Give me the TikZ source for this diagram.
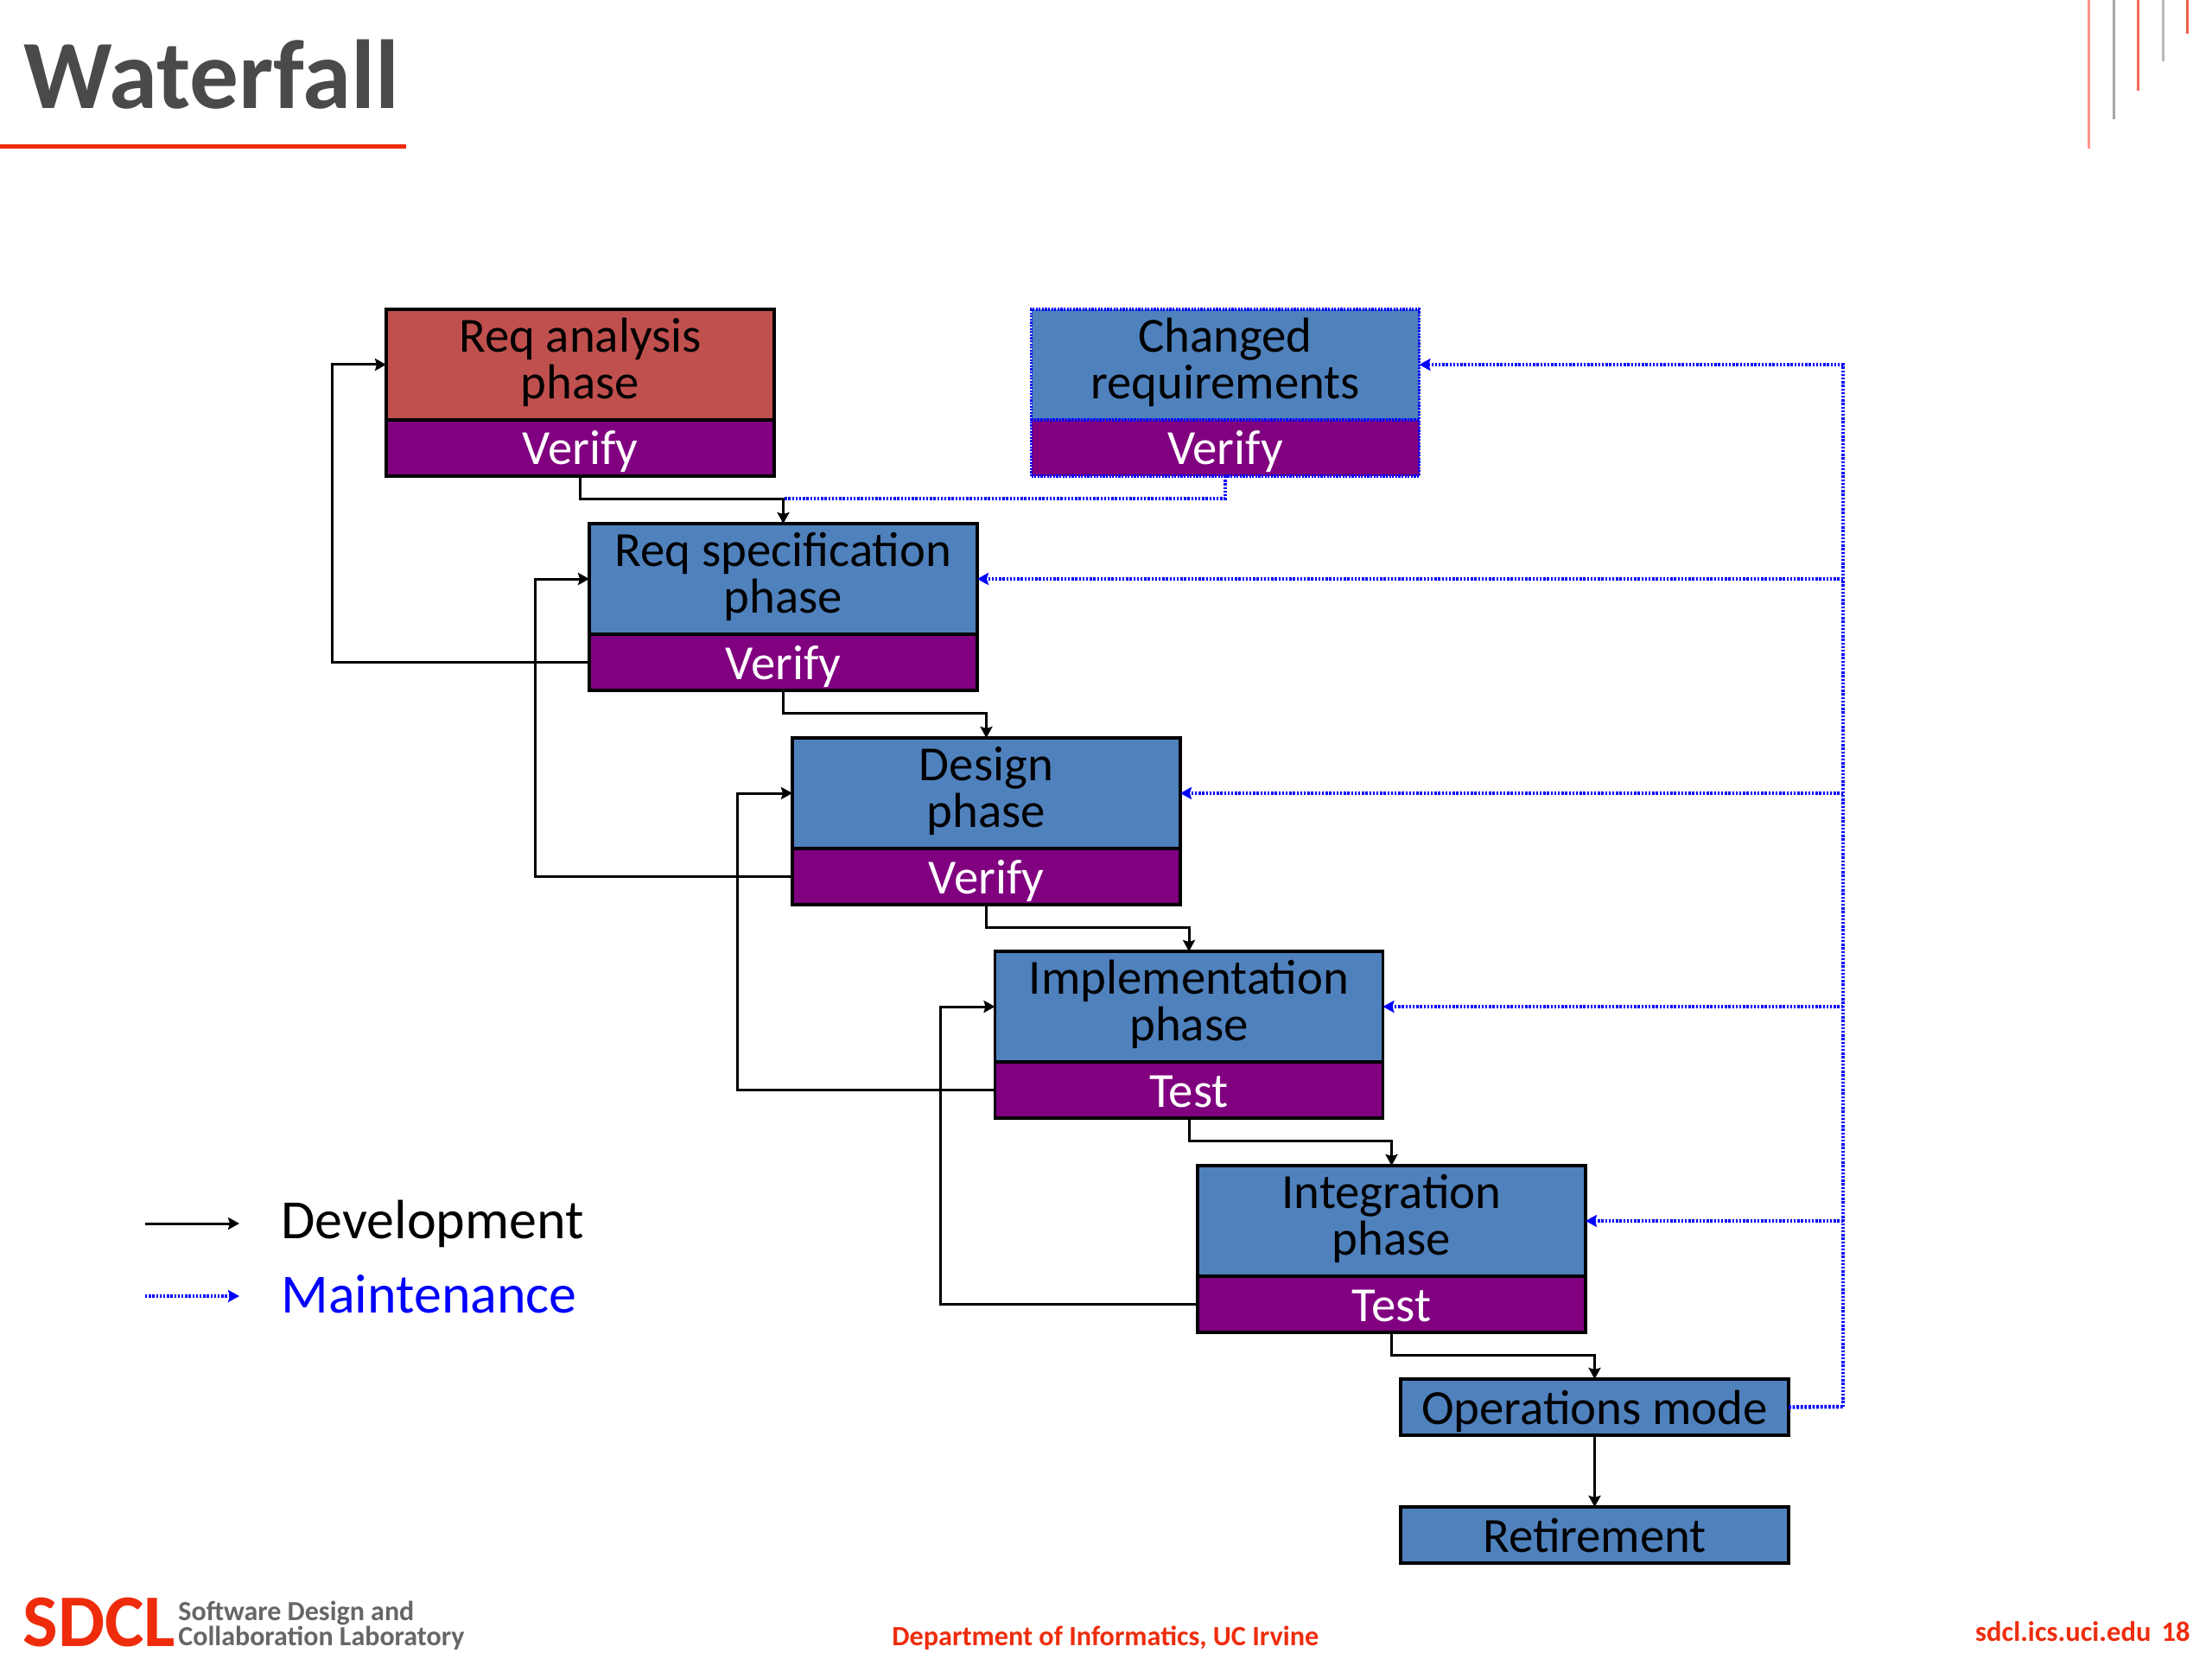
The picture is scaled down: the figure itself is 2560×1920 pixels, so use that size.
\documentclass[tikz,border=0pt]{standalone}
\usepackage{fontspec}
\setmainfont{Carlito}
\usetikzlibrary{arrows.meta,calc}
\definecolor{phaseblue}{HTML}{4F81BD}
\definecolor{phasered}{HTML}{C0504D}
\definecolor{verifypurple}{HTML}{800080}
\definecolor{sdclred}{HTML}{EE2C0C}
\definecolor{titlegray}{HTML}{4A4A4A}
\definecolor{labgray}{HTML}{666666}
\tikzset{
  x=0.5pt,y=-0.5pt,
  boxbase/.style={draw=black,line width=1.6pt,inner sep=0pt,outer sep=0pt,anchor=north west,align=center,minimum width=224.5pt,font=\fontsize{28.4}{27}\selectfont},
  phasetop/.style={boxbase,fill=phaseblue,minimum height=64pt,text depth=7pt},
  phasebot/.style={boxbase,fill=verifypurple,text=white,minimum height=32.5pt,text height=25.5pt,text depth=6pt},
  singlebox/.style={boxbase,fill=phaseblue,minimum height=32.5pt,text height=25.5pt,text depth=6pt},
  maintborder/.style={draw=blue,dash pattern=on 1.1pt off 0.7pt},
  devline/.style={draw=black,line width=1.5pt,-{Stealth[length=6.5pt,width=7pt,inset=1pt]}},
  maintline/.style={draw=blue,line width=1.6pt,dash pattern=on 1.2pt off 0.9pt,-{Stealth[length=6.5pt,width=7pt,inset=1pt]}},
  maintplain/.style={draw=blue,line width=1.6pt,dash pattern=on 1.2pt off 0.9pt},
  maintheavy/.style={draw=blue,line width=2.2pt,dash pattern=on 1.4pt off 0.9pt},
  cornerline/.style={line width=1.5pt},
  legendtext/.style={anchor=west,inner sep=0pt,font=\fontsize{32}{38}\selectfont},
}
\begin{document}
\begin{tikzpicture}
\useasboundingbox (0,0) rectangle (2560,1920);
% title
\node[anchor=base west,inner sep=0pt,text=titlegray,font=\fontsize{56.7}{68}\bfseries\selectfont] (title) at (27,126) {Waterfall};
\coordinate (ulA) at (0,170);
\coordinate (ulB) at (470,170);
\draw[sdclred,line width=2.5pt] (ulA) -- (ulB);
% corner lines
\draw[cornerline,color=red!40!white!90!orange] (2417,0) -- (2417,172);
\draw[cornerline,color=black!35] (2446,0) -- (2446,138);
\draw[cornerline,color=sdclred!70] (2474,0) -- (2474,105);
\draw[cornerline,color=black!28] (2503,0) -- (2503,71);
\draw[cornerline,color=sdclred!75] (2531,0) -- (2531,39);
% boxes
\node[phasetop,fill=phasered] (aT) at (447,358) {Req analysis\\phase};
\node[phasebot] (aB) at (447,486) {Verify};
\node[phasetop,maintborder] (cT) at (1193.5,358) {Changed\\requirements};
\node[phasebot,maintborder] (cB) at (1193.5,486) {Verify};
\node[phasetop] (sT) at (682,606) {Req specification\\phase};
\node[phasebot] (sB) at (682,734) {Verify};
\node[phasetop] (dT) at (917,854) {Design\\phase};
\node[phasebot] (dB) at (917,982) {Verify};
\node[phasetop] (iT) at (1151.5,1101) {Implementation\\phase};
\node[phasebot] (iB) at (1151.5,1229) {Test};
\node[phasetop] (gT) at (1386,1349) {Integration\\phase};
\node[phasebot] (gB) at (1386,1477) {Test};
\node[singlebox] (op) at (1621,1596) {Operations mode};
\node[singlebox] (rt) at (1621,1744) {Retirement};
% maintenance connectors
\coordinate (trunk) at (2133,1628);
\draw[maintline] (trunk) |- (cT.east);
\draw[maintheavy] (op.east) -- (trunk);
\draw[maintline] (trunk |- sT.east) -- (sT.east);
\draw[maintline] (trunk |- dT.east) -- (dT.east);
\draw[maintline] (trunk |- iT.east) -- (iT.east);
\draw[maintline] (trunk |- gT.east) -- (gT.east);
\draw[maintplain] (cB.south) -- ++(0,26) -| (sT.north);
% development connectors
\draw[devline] (aB.south) -- ++(0,26) -| (sT.north);
\draw[devline] (sB.south) -- ++(0,26) -| (dT.north);
\draw[devline] (dB.south) -- ++(0,26) -| (iT.north);
\draw[devline] (iB.south) -- ++(0,26) -| (gT.north);
\draw[devline] (gB.south) -- ++(0,26) -| (op.north);
\draw[devline] (op.south) -- (rt.north);
\draw[devline] (sB.west) -- ++(-298,0) |- (aT.west);
\draw[devline] (dB.west) -- ++(-298,0) |- (sT.west);
\draw[devline] (iB.west) -- ++(-298,0) |- (dT.west);
\draw[devline] (gB.west) -- ++(-298,0) |- (iT.west);
% legend
\coordinate (lgA) at (168,1416);
\coordinate (lgB) at (277,1416);
\coordinate (lgC) at (168,1500);
\coordinate (lgD) at (277,1500);
\draw[devline] (lgA) -- (lgB);
\draw[maintline] (lgC) -- (lgD);
\node[legendtext] (lgDev) at (325,1416) {Development};
\node[legendtext,text=blue] (lgMaint) at (325,1498) {Maintenance};
% footer
\node[anchor=base west,inner sep=0pt,text=sdclred,font=\fontsize{43}{50}\bfseries\selectfont] (sdcl) at (26,1905) {SDCL};
\node[anchor=base west,inner sep=0pt,text=labgray,font=\fontsize{16}{19}\bfseries\selectfont] (labA) at (206,1875) {Software Design and};
\node[anchor=base west,inner sep=0pt,text=labgray,font=\fontsize{16}{19}\bfseries\selectfont] (labB) at (206,1904) {Collaboration Laboratory};
\node[anchor=base west,inner sep=0pt,text=sdclred,font=\fontsize{16.1}{19}\bfseries\selectfont] (dept) at (1032,1904) {Department of Informatics, UC Irvine};
\node[anchor=base east,inner sep=0pt,text=sdclred,font=\fontsize{16.3}{19}\bfseries\selectfont] (site) at (2535,1899) {sdcl.ics.uci.edu\hspace{6pt}18};
\end{tikzpicture}
\end{document}
